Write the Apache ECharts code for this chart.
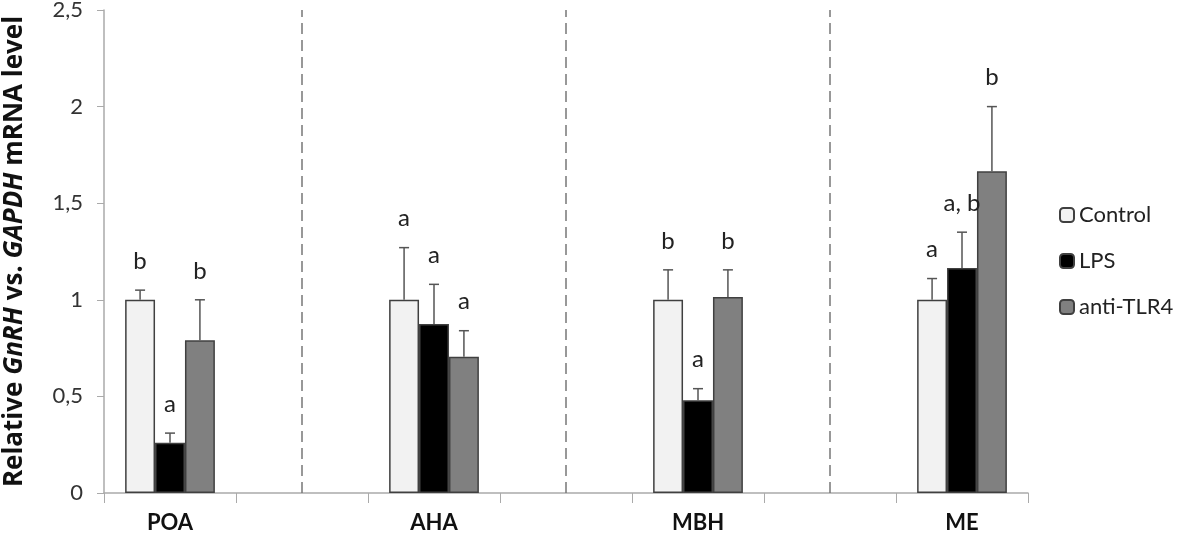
<!DOCTYPE html>
<html>
<head>
<meta charset="utf-8">
<script src="https://cdn.jsdelivr.net/npm/echarts@6/dist/echarts.min.js"></script>
<style>
  html, body { margin: 0; padding: 0; background: #fff; }
  #chart { width: 1181px; height: 541px; }
</style>
</head>
<body>
<div id="chart"></div>
<script>
// regions, with empty slots between them for the dashed separators
var regions = ['POA', 'AHA', 'MBH', 'ME'];
var seriesNames = ['Control', 'LPS', 'anti-TLR4'];

// mean values per region
var controlVals = [1.0, 1.0, 1.0, 1.0];
var lpsVals = [0.26, 0.875, 0.48, 1.165];
var antiVals = [0.79, 0.705, 1.015, 1.665];

// upper error (SEM) per region
var controlErr = [0.05, 0.27, 0.155, 0.11];
var lpsErr = [0.05, 0.205, 0.06, 0.185];
var antiErr = [0.21, 0.135, 0.14, 0.335];

// significance letters
var controlLetters = ['b', 'a', 'b', 'a'];
var lpsLetters = ['a', 'a', 'a', 'a, b'];
var antiLetters = ['b', 'a', 'b', 'b'];

var yTicks = [0, 0.5, 1, 1.5, 2, 2.5];

var colors = ['#f2f2f2', '#000000', '#808080'];
var FONT = 'Lato, "Open Sans", sans-serif';

// categories: region, gap, region, gap ...
var categories = [];
regions.forEach(function (r, i) {
  categories.push(r);
  if (i < regions.length - 1) categories.push('');
});
function spread(arr) {
  var out = [];
  arr.forEach(function (v, i) {
    out.push(v);
    if (i < arr.length - 1) out.push(null);
  });
  return out;
}

var vals = [controlVals, lpsVals, antiVals];
var errs = [controlErr, lpsErr, antiErr];
var letters = [controlLetters, lpsLetters, antiLetters];
var catGap = 0.32;

var series = [];
vals.forEach(function (v, s) {
  var bar = {
    name: seriesNames[s],
    type: 'bar',
    data: spread(v),
    barGap: 0,
    barCategoryGap: (catGap * 100) + '%',
    itemStyle: { color: colors[s], borderColor: '#404040', borderWidth: 1.5 },
    z: 2
  };
  // middle series: its markLine sits on the category centre
  if (s === 1) {
    bar.markLine = {
      silent: true,
      symbol: 'none',
      label: { show: false },
      lineStyle: { color: '#777', type: [11, 6], width: 1.5 },
      data: [{ xAxis: 1 }, { xAxis: 3 }, { xAxis: 5 }]
    };
  }
  series.push(bar);
});

// error bars + letters, one custom series per group
vals.forEach(function (v, s) {
  var data = [];
  v.forEach(function (val, i) {
    data.push([i * 2, val, val + errs[s][i], letters[s][i]]);
  });
  series.push({
    type: 'custom',
    name: seriesNames[s] + ' err',
    data: data,
    z: 5,
    silent: true,
    renderItem: function (params, api) {
      var catW = api.size([1, 0])[0];
      var barW = catW * (1 - catGap) / 3;
      var base = api.coord([api.value(0), api.value(1)]);
      var top = api.coord([api.value(0), api.value(2)]);
      var x = base[0] + (s - 1) * barW;
      var cap = 5;
      return {
        type: 'group',
        children: [
          { type: 'line', shape: { x1: x, y1: base[1], x2: x, y2: top[1] },
            style: { stroke: '#555', lineWidth: 1.5 } },
          { type: 'line', shape: { x1: x - cap, y1: top[1], x2: x + cap, y2: top[1] },
            style: { stroke: '#555', lineWidth: 1.5 } },
          { type: 'text', x: x, y: top[1] - 29,
            style: { text: letters[s][params.dataIndex], x: 0, y: 0, align: 'center', verticalAlign: 'middle',
              fill: '#222', font: '24px ' + FONT } }
        ]
      };
    }
  });
});

var chart = echarts.init(document.getElementById('chart'));
chart.setOption({
  animation: false,
  textStyle: { fontFamily: FONT },
  grid: { left: 104, right: 153, top: 10, bottom: 48, containLabel: false, outerBoundsMode: 'none' },
  legend: {
    data: seriesNames,
    orient: 'vertical',
    left: 1054,
    top: 199,
    itemWidth: 14,
    itemHeight: 14,
    itemGap: 24,
    textStyle: { fontSize: 22, color: '#222', fontFamily: FONT }
  },
  xAxis: {
    type: 'category',
    data: categories,
    axisLine: { lineStyle: { color: '#aaa', width: 1.5 } },
    axisTick: { show: true, length: 10, lineStyle: { color: '#aaa' } },
    axisLabel: { margin: 19, fontSize: 22, fontWeight: 'bold', color: '#111', fontFamily: FONT }
  },
  yAxis: {
    type: 'value',
    min: yTicks[0],
    max: yTicks[yTicks.length - 1],
    interval: 0.5,
    name: 'Relative {i|GnRH} vs. {i|GAPDH} mRNA level',
    nameLocation: 'middle',
    nameGap: 76,
    nameTextStyle: {
      fontSize: 26, fontWeight: 'bold', color: '#111', fontFamily: '"Open Sans", sans-serif',
      rich: { i: { fontSize: 26, fontWeight: 'bold', fontStyle: 'italic', color: '#111', fontFamily: '"Open Sans", sans-serif' } }
    },
    splitLine: { show: false },
    axisLine: { show: true, lineStyle: { color: '#aaa', width: 1.5 } },
    axisTick: { show: true, length: 7, lineStyle: { color: '#aaa' } },
    axisLabel: {
      margin: 21, fontSize: 22, color: '#333', fontFamily: FONT,
      formatter: function (v) { return String(v).replace('.', ','); }
    }
  },
  series: series
});
</script>
</body>
</html>
